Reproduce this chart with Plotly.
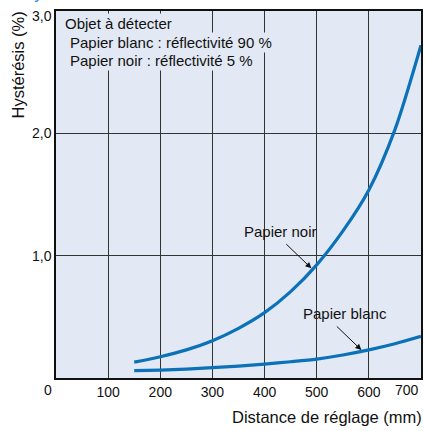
import plotly.graph_objects as go

# Data
distance = [150, 200, 250, 300, 350, 400, 450, 500, 550, 600, 650, 700]
papier_noir = [0.13, 0.174, 0.23, 0.305, 0.406, 0.534, 0.706, 0.925, 1.20, 1.537, 2.03, 2.72]
papier_blanc = [0.06, 0.065, 0.073, 0.084, 0.097, 0.114, 0.133, 0.155, 0.188, 0.23, 0.28, 0.34]
x_ticks = [100, 200, 300, 400, 500, 600]
y_ticks = [1, 2]
y_ticklabels = ["1,0", "2,0"]

BG = "#e2e9f4"
BLUE = "#0b72b9"
FONT = "Liberation Sans, Arial, sans-serif"

fig = go.Figure()
fig.add_trace(go.Scatter(x=distance, y=papier_noir, mode="lines",
                         line=dict(color=BLUE, width=3.2, shape="spline", smoothing=0.8),
                         showlegend=False, hoverinfo="skip"))
fig.add_trace(go.Scatter(x=distance, y=papier_blanc, mode="lines",
                         line=dict(color=BLUE, width=3.2, shape="spline", smoothing=0.8),
                         showlegend=False, hoverinfo="skip"))

anns = []
# Info text lines
info = [("Objet à détecter", 13, 2.9), ("Papier blanc : réflectivité 90 %", 23, 2.745),
        ("Papier noir : réflectivité 5 %", 23, 2.595)]
for t, xv, yv in info:
    anns.append(dict(text=t, x=xv, y=yv, xref="x", yref="y", xanchor="left", yanchor="middle",
                     showarrow=False, bgcolor=BG, borderpad=1,
                     font=dict(size=15, color="#111", family=FONT)))

# Curve labels
anns.append(dict(text="Papier noir", x=431, y=1.194, xref="x", yref="y", showarrow=False,
                 font=dict(size=15, color="#111", family=FONT)))
anns.append(dict(text="Papier blanc", x=555, y=0.529, xref="x", yref="y", showarrow=False,
                 font=dict(size=15, color="#111", family=FONT)))
# Arrows
anns.append(dict(text="", x=489.8, y=0.897, ax=438.7, ay=1.106, xref="x", yref="y",
                 axref="x", ayref="y", showarrow=True, arrowhead=2, arrowsize=1.2,
                 arrowwidth=1, arrowcolor="#111", standoff=0, startstandoff=0))
anns.append(dict(text="", x=585.6, y=0.229, ax=535.8, ay=0.433, xref="x", yref="y",
                 axref="x", ayref="y", showarrow=True, arrowhead=2, arrowsize=1.2,
                 arrowwidth=1, arrowcolor="#111", standoff=0, startstandoff=0))

# Edge tick labels
anns.append(dict(text="0", x=0, y=0, xref="x", yref="y", xanchor="right", yanchor="top",
                 xshift=-2, yshift=-2, showarrow=False, font=dict(size=14, color="#111", family=FONT)))
anns.append(dict(text="700", x=700, y=0, xref="x", yref="y", xanchor="right", yanchor="top",
                 xshift=0, yshift=-2, showarrow=False, font=dict(size=14, color="#111", family=FONT)))
anns.append(dict(text="3,0", x=0, y=3, xref="x", yref="y", xanchor="right", yanchor="middle",
                 xshift=-2, yshift=-5, showarrow=False, font=dict(size=14, color="#111", family=FONT)))

# Axis titles
anns.append(dict(text="Distance de réglage (mm)", x=1, y=0, xref="paper", yref="paper",
                 xanchor="right", yanchor="middle", yshift=-39, xshift=3, showarrow=False,
                 font=dict(size=16.5, color="#111", family=FONT)))
anns.append(dict(text="Hystérésis (%)", x=0, y=1, xref="paper", yref="paper",
                 xanchor="center", yanchor="top", textangle=-90, xshift=-39, yshift=1, showarrow=False,
                 font=dict(size=16.5, color="#111", family=FONT)))
# Cut-off blue heading at top
anns.append(dict(text="Hystérésis", x=0, y=1, xref="paper", yref="paper",
                 xanchor="left", yanchor="bottom", xshift=-36, yshift=6, showarrow=False,
                 font=dict(size=17, color="#2a8fe6", family=FONT)))

fig.update_layout(
    width=425, height=431,
    margin=dict(l=56, r=4, t=11, b=53, autoexpand=False),
    paper_bgcolor="white", plot_bgcolor=BG,
    annotations=anns,
    xaxis=dict(range=[0, 700], tickvals=x_ticks, ticks="", showgrid=True, automargin=False,
               gridcolor="#333", gridwidth=1, zeroline=False,
               showline=True, linecolor="#111", linewidth=1.5, mirror=True,
               tickfont=dict(size=14, color="#111", family=FONT)),
    yaxis=dict(range=[0, 3], tickvals=y_ticks, ticktext=y_ticklabels, ticks="", automargin=False,
               showgrid=True, gridcolor="#333", gridwidth=1, zeroline=False,
               showline=True, linecolor="#111", linewidth=1.5, mirror=True,
               tickfont=dict(size=14, color="#111", family=FONT)),
)

fig.write_html("out.html", config={"displayModeBar": False},
               post_script="document.body.style.margin='0';document.body.style.overflow='hidden';")
